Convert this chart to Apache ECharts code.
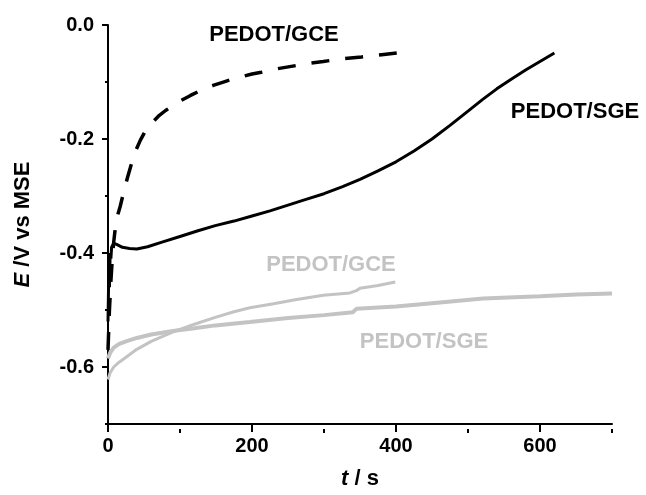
<!DOCTYPE html>
<html>
<head>
<meta charset="utf-8">
<script src="https://cdn.jsdelivr.net/npm/echarts@6/dist/echarts.min.js"></script>
<style>
  html, body { margin: 0; padding: 0; background: #fff; }
  #chart { width: 646px; height: 495px; }
</style>
</head>
<body>
<div id="chart"></div>
<script>
// Potential–time transients, E (V vs MSE) against t (s)
const xMajor = [0, 200, 400, 600];
const xMinor = [100, 300, 500, 700];
const yMajor = [0.0, -0.2, -0.4, -0.6];
const yMinor = [-0.1, -0.3, -0.5, -0.7];

// PEDOT/GCE, black dashed
const gceBlackT = [0, 2, 4, 6, 8, 11, 14, 17, 22, 27, 32, 38, 45, 51, 60, 70, 80, 91, 102, 114, 125, 135, 146, 158, 173, 188, 200, 213, 234, 262, 280, 299, 327, 352, 380, 401];
const gceBlackE = [-0.57, -0.50, -0.45, -0.41, -0.38, -0.347, -0.331, -0.318, -0.292, -0.268, -0.246, -0.222, -0.202, -0.188, -0.173, -0.160, -0.150, -0.141, -0.132, -0.124, -0.117, -0.111, -0.106, -0.101, -0.095, -0.090, -0.086, -0.083, -0.077, -0.071, -0.067, -0.064, -0.059, -0.056, -0.052, -0.049];

// PEDOT/SGE, black solid
const sgeBlackT = [0, 1, 2, 3, 4, 5, 8, 12, 20, 30, 40, 55, 75, 100, 125, 149, 175, 200, 225, 250, 275, 300, 325, 350, 375, 400, 425, 450, 475, 500, 520, 540, 560, 580, 600, 620];
const sgeBlackE = [-0.52, -0.44, -0.46, -0.40, -0.41, -0.39, -0.383, -0.385, -0.39, -0.392, -0.393, -0.389, -0.381, -0.371, -0.361, -0.352, -0.344, -0.335, -0.326, -0.316, -0.306, -0.296, -0.284, -0.271, -0.256, -0.240, -0.221, -0.200, -0.176, -0.151, -0.131, -0.112, -0.095, -0.079, -0.064, -0.049];

// PEDOT/GCE, grey
const gceGreyT = [0, 3, 8, 15, 25, 40, 60, 80, 93, 120, 149, 175, 197, 230, 260, 299, 336, 345, 350, 375, 399];
const gceGreyE = [-0.622, -0.610, -0.600, -0.592, -0.583, -0.569, -0.555, -0.544, -0.537, -0.525, -0.513, -0.503, -0.496, -0.489, -0.482, -0.474, -0.470, -0.466, -0.462, -0.457, -0.451];

// PEDOT/SGE, grey
const sgeGreyT = [0, 3, 8, 15, 25, 40, 60, 90, 120, 149, 197, 250, 300, 340, 345, 400, 450, 521, 600, 650, 700];
const sgeGreyE = [-0.585, -0.575, -0.566, -0.560, -0.555, -0.549, -0.543, -0.537, -0.532, -0.527, -0.521, -0.514, -0.509, -0.504, -0.498, -0.494, -0.488, -0.480, -0.476, -0.473, -0.471];

const pair = (ts, es) => ts.map((t, i) => [t, es[i]]);

const FONT = '"Liberation Sans", Arial, sans-serif';
const GREY = '#c3c3c3';
const axisLineStyle = { color: '#000', width: 2 };

const GRID = { left: 108, right: 34, top: 25, bottom: 66 };
const plotH = 495 - GRID.top - GRID.bottom;

const nameStyle = {
  fontFamily: FONT, fontSize: 22, fontWeight: 'bold', color: '#000',
  rich: { i: { fontFamily: FONT, fontSize: 22, fontWeight: 'bold', fontStyle: 'italic', color: '#000' } }
};

const chart = echarts.init(document.getElementById('chart'), null, { renderer: 'canvas' });

chart.setOption({
  animation: false,
  backgroundColor: '#fff',
  grid: Object.assign({ containLabel: false }, GRID),
  xAxis: [
    {
      type: 'value', min: 0, max: 700, interval: 100, position: 'bottom',
      name: '{i|t} / s', nameLocation: 'middle', nameGap: 44, nameTextStyle: nameStyle,
      axisLine: { show: true, onZero: false, lineStyle: axisLineStyle },
      axisTick: { show: true, length: 8, customValues: xMajor, lineStyle: axisLineStyle },
      splitLine: { show: false },
      axisLabel: { margin: 12, fontFamily: FONT, fontSize: 20, fontWeight: 'bold', color: '#000', customValues: xMajor }
    },
    {
      // short unlabelled ticks, shifted down onto the bottom axis line
      type: 'value', min: 0, max: 700, interval: 100, position: 'top', offset: -plotH,
      axisLine: { show: false, onZero: false },
      axisTick: { show: true, inside: true, length: 4, customValues: xMinor, lineStyle: axisLineStyle },
      splitLine: { show: false },
      axisLabel: { show: false }
    }
  ],
  yAxis: [
    {
      type: 'value', min: -0.7, max: 0.0, interval: 0.1, position: 'left',
      name: '{i|E} /V vs MSE', nameLocation: 'middle', nameRotate: 90, nameGap: 74, nameTextStyle: nameStyle,
      axisLine: { show: true, onZero: false, lineStyle: axisLineStyle },
      axisTick: { show: true, length: 6, customValues: yMajor, lineStyle: axisLineStyle },
      splitLine: { show: false },
      axisLabel: {
        margin: 14, fontFamily: FONT, fontSize: 20, fontWeight: 'bold', color: '#000',
        customValues: yMajor, formatter: v => v.toFixed(1)
      }
    },
    {
      // short unlabelled ticks, placed at t = 0 on the left axis line
      type: 'value', min: -0.7, max: 0.0, interval: 0.1, position: 'right',
      axisLine: { show: false, onZero: true, onZeroAxisIndex: 0 },
      axisTick: { show: true, inside: true, length: 3, customValues: yMinor, lineStyle: axisLineStyle },
      splitLine: { show: false },
      axisLabel: { show: false }
    }
  ],
  series: [
    {
      name: 'PEDOT/SGE grey', type: 'line', data: pair(sgeGreyT, sgeGreyE),
      showSymbol: false, smooth: false,
      lineStyle: { color: GREY, width: 4 }
    },
    {
      name: 'PEDOT/GCE grey', type: 'line', data: pair(gceGreyT, gceGreyE),
      showSymbol: false, smooth: false,
      lineStyle: { color: GREY, width: 3 }
    },
    {
      name: 'PEDOT/GCE', type: 'line', data: pair(gceBlackT, gceBlackE),
      showSymbol: false, smooth: false,
      lineStyle: { color: '#000', width: 3.5, type: [18, 16] }
    },
    {
      name: 'PEDOT/SGE', type: 'line', data: pair(sgeBlackT, sgeBlackE),
      showSymbol: false, smooth: false,
      lineStyle: { color: '#000', width: 3 }
    }
  ],
  graphic: [
    { type: 'text', x: 274, y: 35, style: { text: 'PEDOT/GCE', fill: '#000', font: 'bold 22px ' + FONT, align: 'center', verticalAlign: 'middle' } },
    { type: 'text', x: 575, y: 112, style: { text: 'PEDOT/SGE', fill: '#000', font: 'bold 22px ' + FONT, align: 'center', verticalAlign: 'middle' } },
    { type: 'text', x: 331, y: 265, style: { text: 'PEDOT/GCE', fill: GREY, font: 'bold 22px ' + FONT, align: 'center', verticalAlign: 'middle' } },
    { type: 'text', x: 424, y: 342, style: { text: 'PEDOT/SGE', fill: GREY, font: 'bold 22px ' + FONT, align: 'center', verticalAlign: 'middle' } }
  ]
});
</script>
</body>
</html>
